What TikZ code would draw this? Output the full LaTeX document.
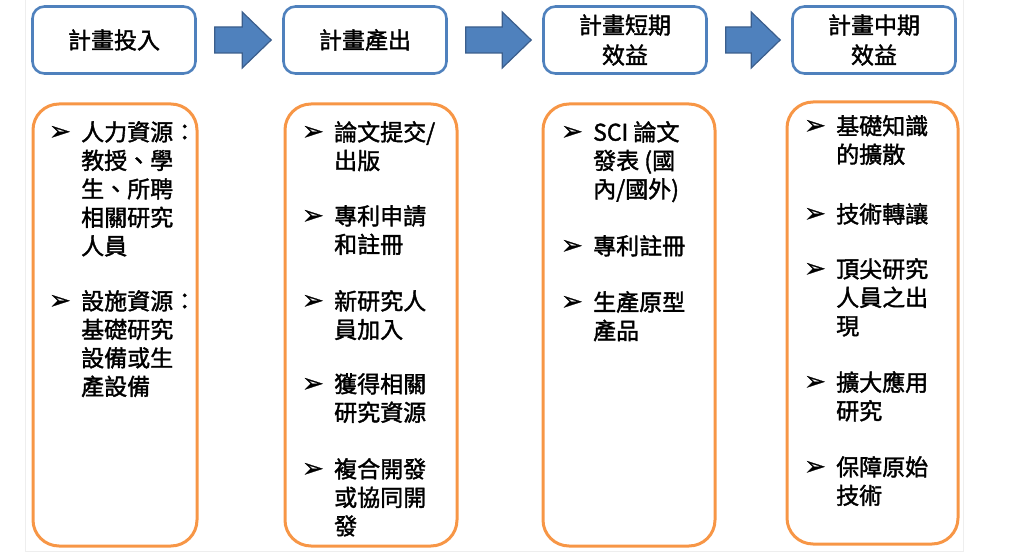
\documentclass[tikz,border=0pt]{standalone}
\usepackage{fontspec}
\setmainfont{Noto Sans CJK TC}[FakeBold=1.6]
\newfontfamily\symfont{DejaVu Sans}[FakeBold=1]
\usetikzlibrary{calc}
\definecolor{hdrblue}{HTML}{4F81BD}
\definecolor{arrowedge}{HTML}{3B5E8C}
\definecolor{boxorange}{HTML}{F79646}
\definecolor{framegray}{HTML}{EEEEEE}
\begin{document}
\begin{tikzpicture}[x=1pt,y=-1pt,
  hdr/.style={draw=hdrblue, line width=2.6pt, rounded corners=12pt,
    minimum width=163pt, minimum height=67pt, align=center,
    inner sep=0pt, font=\fontsize{23}{30}\selectfont},
  panel/.style={draw=boxorange, line width=3pt, rounded corners=26pt,
    inner sep=0pt},
  itm/.style={anchor=north west, inner sep=0pt, align=left,
    font=\fontsize{23}{28.5}\selectfont},
  bul/.style={inner sep=0pt, font=\symfont\fontsize{26}{26}\selectfont},
  flow/.style={fill=hdrblue, draw=arrowedge, line width=1.2pt, line join=miter}
]
\useasboundingbox (0,0) rectangle (1025,553);

% page edges
\draw[framegray, line width=0.8pt] (25,0) -- (25,551) -- (963,551) -- (963,0);

% stage headers
\node[hdr] (h1) at (114,40)   {計畫投入};
\node[hdr] (h2) at (365,40)   {計畫產出};
\node[hdr] (h3) at (625,40)   {計畫短期\\效益};
\node[hdr] (h4) at (874,40)   {計畫中期\\效益};

% block arrows between headers
\foreach \a/\b in {h1/h2, h2/h3, h3/h4}{
  \path ($(\a.east)+(18,0)$) coordinate (s)
        ($(\b.west)+(-11,0)$) coordinate (t);
  \draw[flow] ($(s)+(0,-13)$) -- ($(t)+(-29,-13)$) -- ($(t)+(-29,-28)$)
    -- (t) -- ($(t)+(-29,28)$) -- ($(t)+(-29,13)$) -- ($(s)+(0,13)$) -- cycle;
}

% content panels
\node[panel, minimum width=164pt, minimum height=442pt] (p1) at (115,325) {};
\node[panel, minimum width=172pt, minimum height=442pt] (p2) at (371,325) {};
\node[panel, minimum width=172pt, minimum height=442pt] (p3) at (629,325) {};
\node[panel, minimum width=171pt, minimum height=442pt] (p4) at (872.5,323) {};

% panel 1
\node[itm] (a1) at (81,121) {人力資源：\\教授、學\\生、所聘\\相關研究\\人員};
\node[itm] (a2) at (81,290) {設施資源：\\基礎研究\\設備或生\\產設備};
% panel 2
\node[itm] (b1) at (334,121) {論文提交/\\出版};
\node[itm] (b2) at (334,205) {專利申請\\和註冊};
\node[itm] (b3) at (334,290) {新研究人\\員加入};
\node[itm] (b4) at (334,373) {獲得相關\\研究資源};
\node[itm] (b5) at (334,458) {複合開發\\或協同開\\發};
% panel 3
\node[itm] (c1) at (593,121) {SCI 論文\\發表 (國\\內/國外)};
\node[itm] (c2) at (593,235) {專利註冊};
\node[itm] (c3) at (593,291) {生產原型\\產品};
% panel 4
\node[itm] (d1) at (836,115) {基礎知識\\的擴散};
\node[itm] (d2) at (836,203) {技術轉讓};
\node[itm] (d3) at (836,258) {頂尖研究\\人員之出\\現};
\node[itm] (d4) at (836,371) {擴大應用\\研究};
\node[itm] (d5) at (836,456) {保障原始\\技術};

% bullets, one per item
\foreach \n in {a1,a2,b1,b2,b3,b4,b5,c1,c2,c3,d1,d2,d3,d4,d5}{
  \node[bul] at ($(\n.north west)+(-21,12)$) {➢};
}
\end{tikzpicture}
\end{document}
